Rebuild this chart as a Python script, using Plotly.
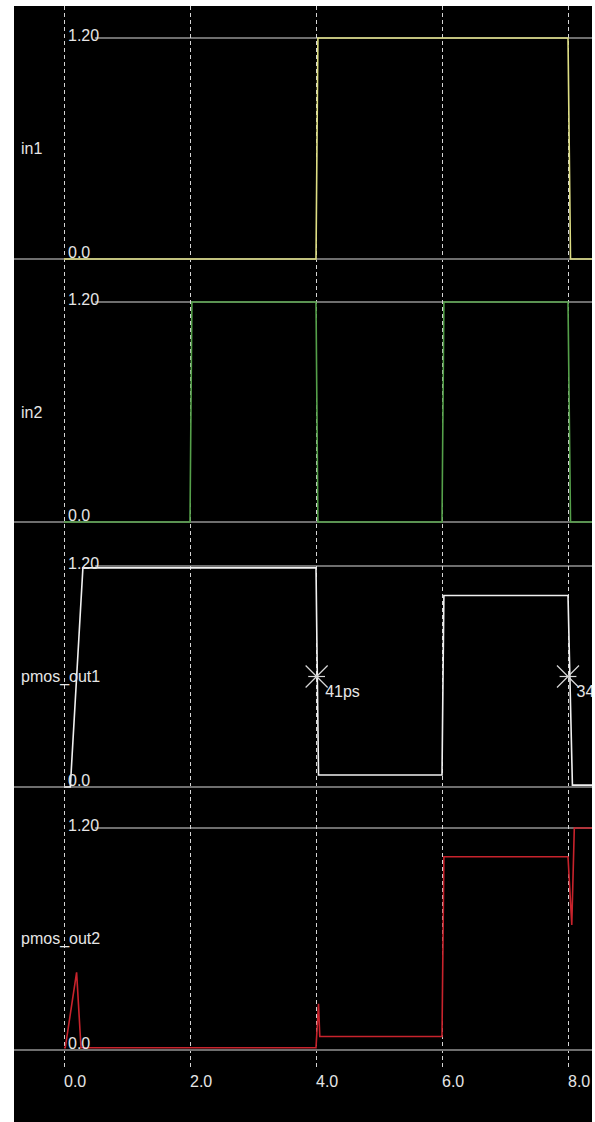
import plotly.graph_objects as go

# ---- signal data (time in ns, voltage in V) ----
signal_names = ["in1", "in2", "pmos_out1", "pmos_out2"]

t_in1 = [0.0, 4.0, 4.03, 8.0, 8.04, 8.4]
v_in1 = [0.0, 0.0, 1.2, 1.2, 0.0, 0.0]

t_in2 = [0.0, 2.0, 2.03, 4.0, 4.03, 6.0, 6.03, 8.0, 8.04, 8.4]
v_in2 = [0.0, 0.0, 1.2, 1.2, 0.0, 0.0, 1.2, 1.2, 0.0, 0.0]

t_out1 = [0.0, 0.1, 0.3, 4.0, 4.04, 6.0, 6.03, 8.0, 8.07, 8.4]
v_out1 = [0.0, 0.0, 1.19, 1.19, 0.065, 0.065, 1.04, 1.04, 0.01, 0.01]

t_out2 = [0.0, 0.02, 0.2, 0.27, 4.0, 4.04, 4.06, 6.0, 6.03, 8.0, 8.06, 8.1, 8.4]
v_out2 = [0.012, 0.012, 0.42, 0.012, 0.012, 0.25, 0.073, 0.073, 1.045, 1.045, 0.676, 1.2, 1.2]

# delay cursors on pmos_out1 (50% crossing)
cursor_t = [4.01, 8.0]
cursor_v = [0.6, 0.6]
cursor_text = ["41ps", "34ps"]

# axis labelling
x_ticks = [0, 2, 4, 6, 8]
x_ticktext = ["0.0", "2.0", "4.0", "6.0", "8.0"]
level_vals = [0.0, 1.2]
level_text = ["0.0", "1.20"]

colors = ["#dede84", "#55a04a", "#f0f0f0", "#c8232c"]
label_v = [0.6, 0.6, 0.6, 0.6]

# ---- page geometry ----
W, H = 595, 1122
ml, mr, mt, mb = 14, 3, 6, 52
plot_top, plot_bot = mt, H - mb
# pixel rows of the 1.2 V and 0 V levels for each strip
row_hi = [38, 302, 566, 828]
row_lo = [259, 522, 787, 1050]

x_range = [-50 / 63.0, 528 / 63.0]

font_family = "Liberation Sans, Arial, sans-serif"
font_size = 16
txt_color = "#e6e6e6"
level_color = "#6e6e6e"
cursor_color = "#d8d8d8"

fig = go.Figure()

series = [(t_in1, v_in1), (t_in2, v_in2), (t_out1, v_out1), (t_out2, v_out2)]
for i, (t, v) in enumerate(series):
    yname = "y" if i == 0 else f"y{i + 1}"
    fig.add_trace(go.Scatter(
        x=t, y=v, mode="lines", name=signal_names[i], yaxis=yname,
        line=dict(color=colors[i], width=1.6), showlegend=False, hoverinfo="skip",
    ))

# cursor markers and their delay readouts
fig.add_trace(go.Scatter(
    x=cursor_t, y=cursor_v, yaxis="y3", mode="markers", showlegend=False,
    marker=dict(symbol="x-thin-open", size=22, color=cursor_color,
                line=dict(color=cursor_color, width=1.2)),
    hoverinfo="skip",
))
fig.add_trace(go.Scatter(
    x=cursor_t, y=cursor_v, yaxis="y3", mode="markers+text", showlegend=False,
    text=cursor_text, textposition="bottom right",
    textfont=dict(family=font_family, size=font_size, color=txt_color),
    marker=dict(symbol="line-ew-open", size=12, color=cursor_color,
                line=dict(color=cursor_color, width=1.2)),
    cliponaxis=True, hoverinfo="skip",
))

layout = dict(
    width=W, height=H,
    margin=dict(l=ml, r=mr, t=mt, b=mb, pad=0),
    paper_bgcolor="#000000", plot_bgcolor="#000000",
    showlegend=False,
    xaxis=dict(
        range=x_range, tickvals=x_ticks, ticktext=x_ticktext,
        showgrid=True, gridcolor="#d4d4d4", gridwidth=1, griddash="4px,3px",
        zeroline=False, showline=False, ticks="",
        ticklabelposition="outside right",
        tickfont=dict(family=font_family, size=font_size, color=txt_color),
        fixedrange=True,
    ),
)

annotations = []
shapes = []
for i in range(4):
    s = (row_lo[i] - row_hi[i]) / 1.2
    hi = 1.2 + (row_hi[i] - plot_top) / s
    lo = -(plot_bot - row_lo[i]) / s
    key = "yaxis" if i == 0 else f"yaxis{i + 1}"
    ref = "y" if i == 0 else f"y{i + 1}"
    ax = dict(
        range=[lo, hi], showgrid=False, showticklabels=False, ticks="",
        zeroline=True, zerolinecolor=level_color, zerolinewidth=2,
        showline=False, fixedrange=True,
    )
    if i > 0:
        ax["overlaying"] = "y"
    layout[key] = ax

    # 1.2 V reference level, starting after its label
    shapes.append(dict(
        type="line", xref="x", yref=ref, x0=0.49, x1=9.0,
        y0=level_vals[1], y1=level_vals[1],
        line=dict(color=level_color, width=2), layer="below",
    ))
    # level labels
    annotations.append(dict(
        x=0, y=level_vals[1], xref="x", yref=ref, text=level_text[1],
        showarrow=False, xanchor="left", yanchor="middle", xshift=2, yshift=3,
        font=dict(family=font_family, size=font_size, color=txt_color),
    ))
    annotations.append(dict(
        x=0, y=level_vals[0], xref="x", yref=ref, text=level_text[0],
        showarrow=False, xanchor="left", yanchor="bottom", xshift=2, yshift=-4,
        font=dict(family=font_family, size=font_size, color=txt_color),
    ))
    # signal name
    annotations.append(dict(
        x=x_range[0], y=label_v[i], xref="x", yref=ref, text=signal_names[i],
        showarrow=False, xanchor="left", yanchor="middle", xshift=5,
        font=dict(family=font_family, size=font_size, color=txt_color),
    ))

# white page border around the black scope area
for x0, x1, y0, y1 in [(-1, 0, -1, 2), (1, 2, -1, 2), (-1, 2, 1, 2)]:
    shapes.append(dict(
        type="rect", xref="paper", yref="paper", x0=x0, x1=x1, y0=y0, y1=y1,
        fillcolor="#ffffff", line=dict(width=0), layer="above",
    ))

layout["annotations"] = annotations
layout["shapes"] = shapes
fig.update_layout(**layout)

fig.write_html("out.html")
